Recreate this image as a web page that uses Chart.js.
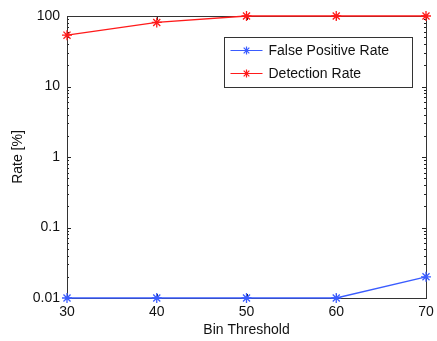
<!DOCTYPE html>
<html><head><meta charset="utf-8">
<script src="https://cdn.jsdelivr.net/npm/chart.js@4"></script>
<style>html,body{margin:0;padding:0;background:#fff}#wrap{width:437px;height:341px}</style>
</head><body><div id="wrap"><canvas id="c" width="437" height="341"></canvas></div>
<script>
const thresholds = [30, 40, 50, 60, 70];
const falsePositiveRate = [0.01, 0.01, 0.01, 0.01, 0.02];
const detectionRate = [53.5, 81, 100, 100, 100];
const yTickValues = [0.01, 0.1, 1, 10, 100];
const yTickLabels = ['0.01', '0.1', '1', '10', '100'];
const seriesLabels = ['False Positive Rate', 'Detection Rate'];
const seriesColors = ['#3a5cff', '#ff1a1a'];

const FONT = {family: '"Liberation Sans", Arial, Helvetica, sans-serif', size: 14};

const boxPlugin = {
  id: 'box',
  beforeDatasetsDraw(chart) {
    const {ctx, chartArea: a, scales} = chart;
    ctx.save();
    ctx.strokeStyle = '#222';
    ctx.lineWidth = 1;
    const ys = scales.y;
    for (let e = -2; e < 2; e++) {
      for (let m = 1; m <= 10; m++) {
        const v = m * Math.pow(10, e);
        const p = Math.round(ys.getPixelForValue(v)) + 0.5;
        const len = (m === 1 || m === 10) ? 4 : 2;
        ctx.beginPath();
        ctx.moveTo(a.left, p); ctx.lineTo(a.left + len, p);
        ctx.moveTo(a.right, p); ctx.lineTo(a.right - len, p);
        ctx.stroke();
      }
    }
    const xs = scales.x;
    thresholds.forEach(t => {
      const p = Math.round(xs.getPixelForValue(t)) + 0.5;
      ctx.beginPath();
      ctx.moveTo(p, a.bottom); ctx.lineTo(p, a.bottom - 4);
      ctx.moveTo(p, a.top); ctx.lineTo(p, a.top + 4);
      ctx.stroke();
    });
    ctx.strokeStyle = '#333';
    ctx.strokeRect(Math.round(a.left) + 0.5, Math.round(a.top) + 0.5, Math.round(a.right - a.left), Math.round(a.bottom - a.top));
    ctx.restore();
  },
  afterDatasetsDraw(chart) {
    const {ctx} = chart;
    const x0 = 224.5, y0 = 37.5, w = 188, h = 50;
    ctx.save();
    ctx.fillStyle = '#fff';
    ctx.fillRect(x0, y0, w, h);
    ctx.strokeStyle = '#333';
    ctx.lineWidth = 1;
    ctx.strokeRect(x0, y0, w, h);
    ctx.font = '14px ' + FONT.family;
    ctx.textBaseline = 'middle';
    chart.data.datasets.forEach((ds, i) => {
      const cy = y0 + 13 + i * 23;
      ctx.strokeStyle = ds.borderColor;
      ctx.lineWidth = 1.2;
      ctx.beginPath();
      ctx.moveTo(x0 + 6, cy); ctx.lineTo(x0 + 38, cy);
      ctx.stroke();
      const cx = x0 + 22, r = 4;
      ctx.beginPath();
      ctx.moveTo(cx - r, cy); ctx.lineTo(cx + r, cy);
      ctx.moveTo(cx, cy - r); ctx.lineTo(cx, cy + r);
      const d = r * 0.707;
      ctx.moveTo(cx - d, cy - d); ctx.lineTo(cx + d, cy + d);
      ctx.moveTo(cx - d, cy + d); ctx.lineTo(cx + d, cy - d);
      ctx.stroke();
      ctx.fillStyle = '#111';
      ctx.fillText(ds.label, x0 + 44, cy + 1);
    });
    ctx.restore();
  }
};

new Chart(document.getElementById('c'), {
  type: 'line',
  data: {
    datasets: [
      {label: seriesLabels[0], data: thresholds.map((t, i) => ({x: t, y: falsePositiveRate[i]})),
       borderColor: seriesColors[0], backgroundColor: seriesColors[0], borderWidth: 1.3,
       pointStyle: 'star', pointRadius: 5, pointBorderWidth: 1.3, tension: 0, clip: false},
      {label: seriesLabels[1], data: thresholds.map((t, i) => ({x: t, y: detectionRate[i]})),
       borderColor: seriesColors[1], backgroundColor: seriesColors[1], borderWidth: 1.3,
       pointStyle: 'star', pointRadius: 5, pointBorderWidth: 1.3, tension: 0, clip: false}
    ]
  },
  options: {
    responsive: false, animation: false,
    layout: {padding: {left: 0, top: 16, right: 11, bottom: 0}},
    plugins: {legend: {display: false}, tooltip: {enabled: false}},
    scales: {
      x: {
        type: 'linear', min: 30, max: 70,
        afterFit(s) { s.height = 43; s.paddingLeft = 0; s.paddingRight = 0; },
        afterBuildTicks(s) { s.ticks = thresholds.map(v => ({value: v})); },
        grid: {display: false, drawTicks: false},
        border: {display: false},
        ticks: {color: '#111', font: FONT, padding: 6, maxRotation: 0, callback: v => String(v)},
        title: {display: true, text: 'Bin Threshold', color: '#111', font: FONT, padding: {top: 0, bottom: 2}}
      },
      y: {
        type: 'logarithmic', min: 0.01, max: 100,
        afterFit(s) { s.width = 67; s.paddingTop = 0; s.paddingBottom = 0; },
        afterBuildTicks(s) { s.ticks = yTickValues.map(v => ({value: v})); },
        grid: {display: false, drawTicks: false},
        border: {display: false},
        ticks: {color: '#111', font: FONT, padding: 7, callback: (v) => {
          const i = yTickValues.findIndex(t => Math.abs(t - v) / t < 1e-6);
          return i >= 0 ? yTickLabels[i] : '';
        }},
        title: {display: true, text: 'Rate [%]', color: '#111', font: FONT, padding: {top: 10, bottom: 0}}
      }
    }
  },
  plugins: [boxPlugin]
});
</script></body></html>
